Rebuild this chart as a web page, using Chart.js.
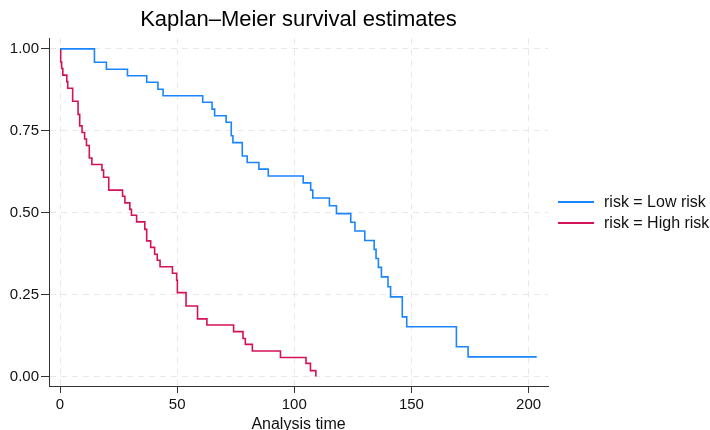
<!DOCTYPE html>
<html>
<head>
<meta charset="utf-8">
<script src="https://cdn.jsdelivr.net/npm/chart.js@4"></script>
<style>
    body { margin: 0; background: #fff; }
    #contenedor { position: relative; width: 710px; height: 430px; }
    #leyenda { position: absolute; left: 558px; top: 191px; font: 16px "Liberation Sans", Arial, sans-serif; color: #111; }
    .item { display: flex; align-items: center; height: 21px; white-space: nowrap; }
    .linea { width: 36px; height: 2px; margin-right: 10px; }
</style>
</head>
<body>
<div id="contenedor">
    <canvas id="graficoKM" width="710" height="430"></canvas>
    <div id="leyenda"></div>
</div>
<script>
// tiempos y supervivencia
const tiempoBajo = [0, 14.7, 19.8, 28.8, 37.0, 41.8, 44.0, 60.9, 64.9, 66.0, 70.9, 73.1, 73.8, 77.8, 79.9, 84.9, 88.9,
    103.8, 107.0, 107.9, 115.0, 118.0, 124.1, 125.9, 130.1, 134.1, 134.9, 135.9, 137.2, 140.0, 141.1, 146.1, 148.0,
    169.2, 174.2, 203.5]
const survBajo = [1, 0.959, 0.938, 0.918, 0.898, 0.877, 0.857, 0.837, 0.816, 0.796, 0.776, 0.735, 0.714, 0.673, 0.653, 0.633, 0.612,
    0.591, 0.569, 0.545, 0.521, 0.497, 0.471, 0.444, 0.415, 0.388, 0.360, 0.333, 0.304, 0.274, 0.243, 0.182, 0.152,
    0.091, 0.060, 0.060]

const tiempoAlto = [0, 0.3, 0.7, 1.2, 2.9, 3.3, 5.4, 7.7, 8.4, 9.4, 10.5, 11.3, 12.5, 13.6, 17.9, 18.6, 20.8,
    26.7, 27.7, 29.8, 30.5, 32.7, 36.2, 37.0, 38.7, 40.4, 41.5, 42.7, 48.0, 49.8, 50.1, 53.8, 58.7,
    62.7, 74.1, 78.1, 79.1, 82.1, 94.1, 105.0, 106.9, 109.2]
const survAlto = [1, 0.96, 0.94, 0.92, 0.90, 0.88, 0.84, 0.80, 0.765, 0.745, 0.725, 0.705, 0.667, 0.647, 0.63, 0.608, 0.569,
    0.55, 0.53, 0.51, 0.492, 0.472, 0.449, 0.414, 0.394, 0.373, 0.355, 0.335, 0.315, 0.294, 0.256, 0.215, 0.176,
    0.157, 0.137, 0.116, 0.098, 0.078, 0.058, 0.04, 0.018, 0]

const ticksX = [0, 50, 100, 150, 200]
const ticksY = [0, 0.25, 0.5, 0.75, 1]
const nombresSeries = ['risk = Low risk', 'risk = High risk']
const colores = ['#1a85ff', '#d41159']

const fuente = '"Liberation Sans", Arial, sans-serif'

const puntos = (tiempos, surv) => tiempos.map((t, i) => ({ x: t, y: surv[i] }))

const serie = (i, datos) => ({
    label: nombresSeries[i],
    data: datos,
    borderColor: colores[i],
    backgroundColor: colores[i],
    borderWidth: 1.6,
    stepped: 'before',
    pointRadius: 0,
    fill: false
})

const ejeComun = {
    type: 'linear',
    grid: { color: '#e8e8e8', lineWidth: 1, tickColor: '#333', tickBorderDash: [] },
    border: { display: true, color: '#333', width: 1, dash: [6, 5] },
    ticks: { color: '#111', font: { family: fuente, size: 15 }, maxRotation: 0 }
}

new Chart(document.getElementById('graficoKM'), {
    type: 'line',
    data: {
        datasets: [
            serie(0, puntos(tiempoBajo, survBajo)),
            serie(1, puntos(tiempoAlto, survAlto))
        ]
    },
    options: {
        responsive: false,
        animation: false,
        layout: { padding: { left: 0, right: 162, top: 0, bottom: 0 } },
        plugins: {
            legend: { display: false },
            tooltip: { enabled: false },
            title: {
                display: true,
                text: 'Kaplan–Meier survival estimates',
                fullSize: false,
                color: '#000',
                font: { family: fuente, size: 22, weight: 'normal', lineHeight: 1.2 },
                padding: { top: 7, bottom: 5 }
            }
        },
        scales: {
            x: {
                ...ejeComun,
                min: -4.7,
                max: 208.3,
                afterBuildTicks: s => { s.ticks = ticksX.map(v => ({ value: v })) },
                afterFit: s => { s.height = 44 },
                grid: { ...ejeComun.grid, tickLength: 7 },
                ticks: { ...ejeComun.ticks, padding: 3 },
                title: {
                    display: true,
                    text: 'Analysis time',
                    color: '#111',
                    font: { family: fuente, size: 16, lineHeight: 1 },
                    padding: { top: 0, bottom: -3 }
                }
            },
            y: {
                ...ejeComun,
                min: -0.029,
                max: 1.032,
                afterBuildTicks: s => { s.ticks = ticksY.map(v => ({ value: v })) },
                afterFit: s => { s.width = 49 },
                grid: { ...ejeComun.grid, tickLength: 8 },
                ticks: { ...ejeComun.ticks, padding: 2, callback: v => v.toFixed(2) }
            }
        }
    }
});

// leyenda a la derecha
document.getElementById('leyenda').innerHTML = nombresSeries.map((nombre, i) =>
    `<div class="item"><span class="linea" style="background:${colores[i]}"></span>${nombre}</div>`
).join('')
</script>
</body>
</html>
